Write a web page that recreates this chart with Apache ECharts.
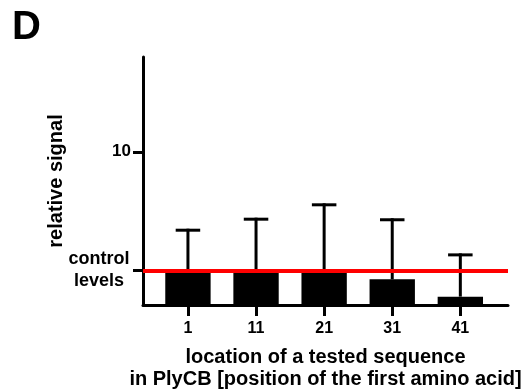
<!DOCTYPE html>
<html><head><meta charset="utf-8">
<script src="https://cdn.jsdelivr.net/npm/echarts@6/dist/echarts.min.js"></script>
<style>html,body{margin:0;padding:0;background:#fff}#c{width:531px;height:392px}</style>
</head><body><div id="c"></div>
<script>
const categories = ['1', '11', '21', '31', '41'];
const means = [0.97, 0.97, 0.97, 0.84, 0.60];
const upperErrors = [2.18, 2.70, 3.57, 2.67, 1.35];
const yTicks = [1, 10];
const controlLevel = 1;
const yMin = 0.51, yMax = 63;

const F = '"Liberation Sans", Arial, Helvetica, sans-serif';
const idx = categories.map((c, i) => i);
const chart = echarts.init(document.getElementById('c'), null, {renderer: 'canvas'});
chart.setOption({
  animation: false,
  backgroundColor: '#fff',
  title: {text: 'D', left: 7, top: 3, textStyle: {fontFamily: F, fontSize: 40, fontWeight: 'bold', color: '#000'}},
  grid: {left: 143, right: 23, top: 57, bottom: 87, outerBoundsMode: 'none', containLabel: false},
  xAxis: {
    type: 'value', min: -0.66, max: 4.7,
    axisLine: {show: true, onZero: false, lineStyle: {color: '#000', width: 3}},
    splitLine: {show: false},
    axisTick: {show: true, customValues: idx, length: 11, lineStyle: {color: '#000', width: 3}},
    axisLabel: {customValues: idx, formatter: v => categories[Math.round(v)], margin: 16,
      fontFamily: F, fontSize: 16, fontWeight: 'bold', color: '#000'},
    name: 'location of a tested sequence\nin PlyCB [position of the first amino acid]',
    nameLocation: 'middle', nameGap: 41, nameMoveOverlap: false,
    nameTextStyle: {fontFamily: F, fontSize: 20, fontWeight: 'bold', color: '#000', lineHeight: 22}
  },
  yAxis: {
    type: 'log', logBase: 10, min: yMin, max: yMax,
    axisLine: {show: true, onZero: false, lineStyle: {color: '#000', width: 3}},
    splitLine: {show: false}, minorTick: {show: false}, minorSplitLine: {show: false},
    axisTick: {show: true, customValues: yTicks, length: 10, lineStyle: {color: '#000', width: 3}},
    axisLabel: {
      customValues: yTicks, margin: 12, color: '#000', fontFamily: F, fontWeight: 'bold',
      formatter: v => (Math.abs(v - controlLevel) < 1e-6 ? '{c|control}\n{c|levels}' : '{t|' + v + '}'),
      rich: {
        c: {fontFamily: F, fontSize: 18, fontWeight: 'bold', color: '#000', width: 64, align: 'center', lineHeight: 22},
        t: {fontFamily: F, fontSize: 17, fontWeight: 'bold', color: '#000'}
      }
    },
    name: 'relative signal', nameLocation: 'middle', nameGap: 77, nameMoveOverlap: false,
    nameTextStyle: {fontFamily: F, fontSize: 20, fontWeight: 'bold', color: '#000'}
  },
  series: [
    {
      type: 'custom', z: 2,
      data: means.map((m, i) => [i, m]),
      renderItem: (params, api) => {
        const x = api.value(0), y = api.value(1);
        const top = api.coord([x, y]);
        const bot = api.coord([x, yMin]);
        const l = api.coord([x - 0.333, y])[0], r = api.coord([x + 0.333, y])[0];
        return {type: 'rect', shape: {x: l, y: top[1], width: r - l, height: bot[1] - top[1]}, style: {fill: '#000'}};
      }
    },
    {
      type: 'custom', z: 3,
      data: means.map((m, i) => [i, m, upperErrors[i]]),
      renderItem: (params, api) => {
        const x = api.value(0);
        const a = api.coord([x, api.value(1)]);
        const b = api.coord([x, api.value(2)]);
        const l = api.coord([x - 0.18, api.value(2)])[0], r = api.coord([x + 0.18, api.value(2)])[0];
        const st = {stroke: '#000', lineWidth: 3};
        return {type: 'group', children: [
          {type: 'line', shape: {x1: a[0], y1: a[1], x2: b[0], y2: b[1] - 1.5}, style: st},
          {type: 'line', shape: {x1: l, y1: b[1], x2: r, y2: b[1]}, style: st}
        ]};
      }
    },
    {
      type: 'line', z: 10, data: [],
      markLine: {symbol: 'none', silent: true, label: {show: false},
        lineStyle: {color: '#ff0000', width: 4, type: 'solid'},
        data: [{yAxis: controlLevel}]}
    }
  ]
});
</script></body></html>
